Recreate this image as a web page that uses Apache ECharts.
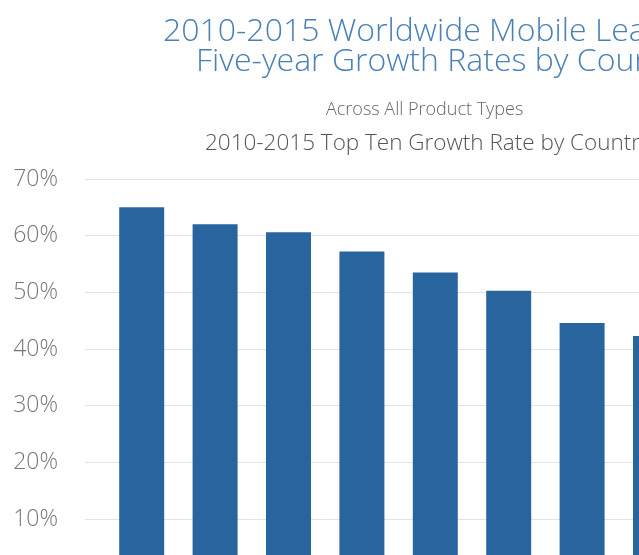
<!DOCTYPE html>
<html>
<head>
<meta charset="utf-8">
<script src="https://cdn.jsdelivr.net/npm/echarts@6/dist/echarts.min.js"></script>
<style>
    html, body { margin: 0; padding: 0; background: #fff; }
    #chart { width: 639px; height: 555px; }
</style>
</head>
<body>
<div id="chart"></div>
<script>
// top ten countries by 2010-2015 growth rate (only the first eight are visible)
const countries = ['Vietnam', 'China', 'Malaysia', 'Thailand', 'Philippines', 'Indonesia', 'Nepal', 'Kenya', 'Brazil', 'India'];
const growthRates = [65.0, 62.0, 60.6, 57.2, 53.5, 50.3, 44.6, 42.3, 40.0, 38.0];
const yTicks = [0, 10, 20, 30, 40, 50, 60, 70];

const font = '"Open Sans", "Liberation Sans", sans-serif';
const yMax = yTicks[yTicks.length - 1];

const chart = echarts.init(document.getElementById('chart'));

const titleStyle = {
    fontFamily: font,
    fontWeight: 300,
    fontSize: 32,
    lineHeight: 32,
    color: '#4a80b8',
};

chart.setOption({
    animation: false,
    textStyle: { fontFamily: font },
    title: [
        { text: '2010-2015 Worldwide Mobile Learning Market:', left: 163, top: 16, padding: 0, textStyle: titleStyle },
        { text: 'Five-year Growth Rates by Country', left: 196, top: 46, padding: 0, textStyle: titleStyle },
        {
            text: 'Across All Product Types',
            left: 326,
            top: 101,
            padding: 0,
            textStyle: { fontFamily: font, fontWeight: 300, fontSize: 18, color: '#666' },
        },
        {
            text: '2010-2015 Top Ten Growth Rate by Country',
            left: 205,
            top: 132,
            padding: 0,
            textStyle: { fontFamily: font, fontWeight: 300, fontSize: 22.5, color: '#555' },
        },
    ],
    grid: [
        // value grid: gridlines and percent labels
        { left: 85, right: 0, top: 179, height: 396.7, outerBoundsMode: 'none' },
        // bar grid, offset from the gridline start
        { left: 105, width: 734, top: 179, height: 396.7, outerBoundsMode: 'none' },
    ],
    xAxis: [
        { gridIndex: 0, type: 'value', show: false, min: 0, max: 1 },
        {
            gridIndex: 1,
            type: 'category',
            data: countries,
            axisLine: { show: false },
            axisTick: { show: false },
            axisLabel: { show: false },
        },
    ],
    yAxis: [
        {
            gridIndex: 0,
            type: 'value',
            min: 0,
            max: yMax,
            interval: 10,
            axisLine: { show: false },
            axisTick: { show: false },
            axisLabel: {
                margin: 27,
                fontFamily: font,
                fontWeight: 300,
                fontSize: 23,
                color: '#777',
                formatter: (v) => (yTicks.includes(v) ? v + '%' : ''),
            },
            splitLine: { lineStyle: { color: '#e3e3e3', width: 1 } },
        },
        {
            gridIndex: 1,
            type: 'value',
            min: 0,
            max: yMax,
            show: false,
        },
    ],
    series: [
        {
            type: 'bar',
            xAxisIndex: 1,
            yAxisIndex: 1,
            data: growthRates,
            barWidth: 45,
            itemStyle: { color: '#28659f' },
        },
    ],
});
</script>
</body>
</html>
